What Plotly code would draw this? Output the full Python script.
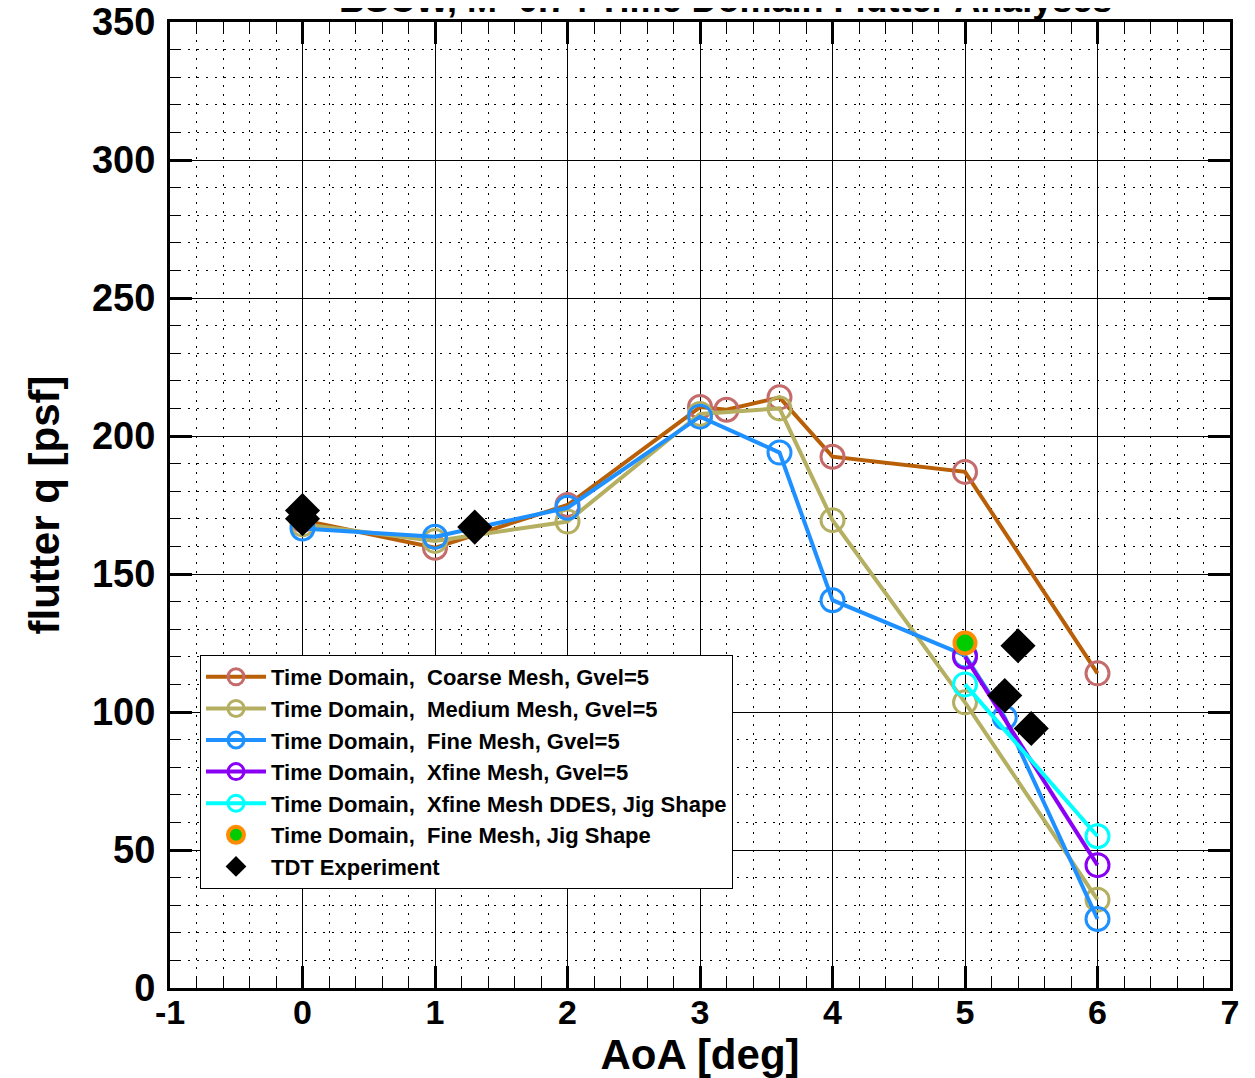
import plotly.graph_objects as go

# ---------------- data ----------------
coarse_x = [0, 1, 2, 3, 3.2, 3.6, 4, 5, 6]
coarse_q = [169.5, 159.5, 175, 210.5, 209.5, 214, 192.5, 187, 114]

medium_x = [0, 1, 2, 3, 3.6, 4, 5, 6]
medium_q = [168, 162, 169, 208, 210, 169.5, 103.5, 32]

fine_x = [0, 1, 2, 3, 3.6, 4, 5, 5.3, 6]
fine_q = [166.5, 163.5, 174, 207, 194, 140.5, 120.5, 98, 25]

xfine_x = [5, 6]
xfine_q = [120, 44.5]

ddes_x = [5, 6]
ddes_q = [110, 55]

jig_x = [5]
jig_q = [125]

tdt_x = [0, 0, 1.3, 5.3, 5.4, 5.5]
tdt_q = [173, 170, 167, 106, 124, 94]

x_tickvals = [-1, 0, 1, 2, 3, 4, 5, 6, 7]
x_ticktext = ["-1", "0", "1", "2", "3", "4", "5", "6", "7"]

names = [
    "Time Domain,  Coarse Mesh, Gvel=5",
    "Time Domain,  Medium Mesh, Gvel=5",
    "Time Domain,  Fine Mesh, Gvel=5",
    "Time Domain,  Xfine Mesh, Gvel=5",
    "Time Domain,  Xfine Mesh DDES, Jig Shape",
    "Time Domain,  Fine Mesh, Jig Shape",
    "TDT Experiment",
]

FONT = "Liberation Sans, Arial, Helvetica, sans-serif"

fig = go.Figure()


def line_trace(x, y, name, lcol, mcol):
    return go.Scatter(
        x=x, y=y, name=name, mode="lines+markers",
        line=dict(color=lcol, width=4),
        marker=dict(symbol="circle-open", size=23, color=mcol,
                    line=dict(width=3, color=mcol)),
    )


fig.add_trace(line_trace(coarse_x, coarse_q, names[0], "#B85F08", "#C46C6C"))
fig.add_trace(line_trace(medium_x, medium_q, names[1], "#B5AF62", "#B5AF62"))
fig.add_trace(line_trace(fine_x, fine_q, names[2], "#1E90FF", "#1E90FF"))
fig.add_trace(line_trace(xfine_x, xfine_q, names[3], "#8A00F5", "#8A00F5"))
fig.add_trace(line_trace(ddes_x, ddes_q, names[4], "#00FFFF", "#00FFFF"))
fig.add_trace(go.Scatter(
    x=jig_x, y=jig_q, name=names[5], mode="markers",
    marker=dict(symbol="circle", size=21, color="#00CC00",
                line=dict(width=4, color="#FF8C00")),
))
fig.add_trace(go.Scatter(
    x=tdt_x, y=tdt_q, name=names[6], mode="markers",
    marker=dict(symbol="diamond", size=27, color="black",
                line=dict(width=0, color="black")),
))

axis_common = dict(
    showline=True, linewidth=3, linecolor="black", mirror="allticks",
    showgrid=True, gridcolor="black", gridwidth=1, automargin=False,
    ticks="inside", tickcolor="black", zeroline=False,
    ticklabeloverflow="allow",
)

fig.update_xaxes(
    **axis_common,
    range=[-1, 7], tickmode="array", tickvals=x_tickvals, ticktext=x_ticktext,
    ticklen=22, tickwidth=3, ticklabelstandoff=-8,
    tickfont=dict(family=FONT, size=34, color="black", weight="bold"),
    minor=dict(dtick=0.2, tick0=0, showgrid=True, gridcolor="black",
               gridwidth=1, griddash="2px,7px", ticks="inside", ticklen=12,
               tickcolor="black", tickwidth=1),
    title=dict(text="AoA [deg]", standoff=0,
               font=dict(family=FONT, size=42, color="black", weight="bold")),
)
fig.update_yaxes(
    **axis_common,
    range=[0, 350], tick0=0, dtick=50, ticklen=22, tickwidth=3,
    ticklabelstandoff=4,
    tickfont=dict(family=FONT, size=38, color="black", weight="bold"),
    minor=dict(dtick=10, showgrid=True, gridcolor="black", gridwidth=1,
               griddash="2px,7px", ticks="inside", ticklen=10,
               tickcolor="black", tickwidth=1),
    title=dict(text="flutter q [psf]", standoff=20,
               font=dict(family=FONT, size=42, color="black", weight="bold")),
)

fig.add_annotation(
    text="BSCW, M=0.74 Time Domain Flutter Analyses",
    xref="paper", yref="paper", x=0.524, y=1.0,
    xanchor="center", yanchor="bottom", showarrow=False,
    font=dict(family=FONT, size=36, color="black", weight="bold"),
)

fig.update_layout(
    width=1255, height=1078,
    margin=dict(l=162, r=33, t=14, b=98),
    paper_bgcolor="white", plot_bgcolor="white",
    showlegend=True,
    legend=dict(
        x=0.0283, y=0.3447, xanchor="left", yanchor="top",
        bgcolor="white", bordercolor="black", borderwidth=1,
        font=dict(family=FONT, size=22, color="black", weight="bold"),
        tracegroupgap=0, itemwidth=60,
    ),
)

fig.write_html("out.html")
